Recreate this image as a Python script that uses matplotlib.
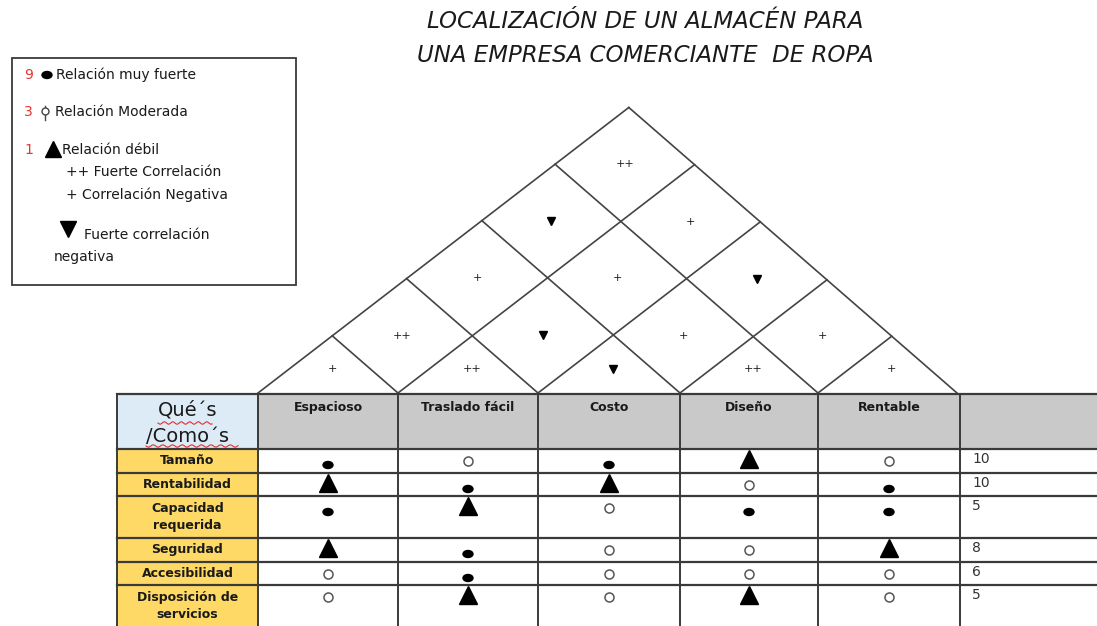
import matplotlib.pyplot as plt
from matplotlib.patches import Rectangle, Ellipse
import numpy as np

title_lines = ["LOCALIZACIÓN DE UN ALMACÉN PARA", "UNA EMPRESA COMERCIANTE  DE ROPA"]

hows = ["Espacioso", "Traslado fácil", "Costo", "Diseño", "Rentable"]
whats = ["Tamaño", "Rentabilidad", "Capacidad\nrequerida", "Seguridad",
         "Accesibilidad", "Disposición de\nservicios"]
weights = [10, 10, 5, 8, 6, 5]

# 9 = relacion muy fuerte, 3 = moderada, 1 = debil
relations = [
    [9, 3, 9, 1, 3],
    [1, 9, 1, 3, 9],
    [9, 1, 3, 9, 9],
    [1, 9, 3, 3, 1],
    [3, 9, 3, 3, 3],
    [3, 1, 3, 1, 3],
]

# roof cells: pair of columns (a, b); a == b is the small triangle on top of column a
roof_a = [0, 1, 2, 3, 4, 0, 1, 2, 3, 0, 1, 2, 0, 1, 0]
roof_b = [0, 1, 2, 3, 4, 1, 2, 3, 4, 2, 3, 4, 3, 4, 4]
roof_mark = ["+", "++", "v", "++", "+",
             "++", "v", "+", "+",
             "+", "+", "v",
             "v", "+",
             "++"]

legend_rows = [("9", "Relación muy fuerte"), ("3", "Relación Moderada"), ("1", "Relación débil")]

# layout (pixel units)
col_edges = [258, 398, 538, 680, 818, 960]
row_edges = [449, 473, 496, 538, 562, 585, 626]
head_top = 394
left_x = 117
right_x = 1097
base_y = 393
sl, sr = 0.77, 0.87   # slopes of the two roof directions

fig = plt.figure(figsize=(10.97, 6.26), dpi=100)
ax = fig.add_axes([0, 0, 1, 1])
ax.set_xlim(0, 1097)
ax.set_ylim(626, 0)
ax.axis("off")

line_c = "#3a3a3a"
txt_c = "#1a1a1a"

# title
for i, t in enumerate(title_lines):
    ax.text(645, 21 + 35 * i, t, ha="center", va="center", fontsize=16.5,
            style="italic", color=txt_c)

# legend box
ax.add_patch(Rectangle((12, 58), 284, 227, fill=False, ec=line_c, lw=1.3))
ys = [75, 112, 150]
for (num, lab), y in zip(legend_rows, ys):
    ax.text(24, y, num, color="#e8322e", fontsize=10, va="center")
ax.add_patch(Ellipse((47, 75), 10, 7, color="black"))
ax.text(56, 75, legend_rows[0][1], fontsize=10, va="center", color=txt_c)
ax.plot([45, 45], [106, 120], color="#444", lw=1)
ax.plot(45, 111, "o", ms=5, mfc="white", mec="#444", mew=1)
ax.text(55, 112, legend_rows[1][1], fontsize=10, va="center", color=txt_c)
ax.plot(53, 149, "^", ms=12, color="black")
ax.text(62, 150, legend_rows[2][1], fontsize=10, va="center", color=txt_c)
ax.text(66, 172, "++ Fuerte Correlación", fontsize=10, va="center", color=txt_c)
ax.text(66, 195, "+ Correlación Negativa", fontsize=10, va="center", color=txt_c)
ax.plot(68, 229, "v", ms=12, color="black")
ax.text(84, 235, "Fuerte correlación", fontsize=10, va="center", color=txt_c)
ax.text(54, 257, "negativa", fontsize=10, va="center", color=txt_c)

# roof
redges = col_edges[:-1] + [957]
nb = len(redges)


def meet(xi, xj):
    # up-right line from xi meets up-left line from xj
    x = (sl * xi + sr * xj) / (sl + sr)
    return x, base_y - sl * (x - xi)


for i in range(nb - 1):
    x, y = meet(redges[i], redges[-1])
    ax.plot([redges[i], x], [base_y, y], color="#444", lw=1.2)
for j in range(1, nb):
    x, y = meet(redges[0], redges[j])
    ax.plot([redges[j], x], [base_y, y], color="#444", lw=1.2)

centers = [(redges[k] + redges[k + 1]) / 2 for k in range(nb - 1)]
for a, b, m in zip(roof_a, roof_b, roof_mark):
    if a == b:
        x, y = meet(redges[a], redges[a + 1])
        y = base_y - (base_y - y) * 0.42
    else:
        x, y = meet(centers[a], centers[b])
    if m == "v":
        ax.plot(x, y, "v", ms=6, color="black")
    else:
        ax.text(x, y, m, ha="center", va="center", fontsize=8, color=txt_c)

# table header
ax.add_patch(Rectangle((left_x, head_top), col_edges[0] - left_x, row_edges[0] - head_top,
                       fc="#DDEBF7", ec="none"))
ax.add_patch(Rectangle((col_edges[0], head_top), right_x - col_edges[0], row_edges[0] - head_top,
                       fc="#C9C9C9", ec="none"))
ax.text((left_x + col_edges[0]) / 2, 410, "Qué´s", ha="center", va="center",
        fontsize=14, color=txt_c)
ax.text((left_x + col_edges[0]) / 2, 436, "/Como´s", ha="center", va="center",
        fontsize=14, color=txt_c)
wx = np.linspace(0, 1, 60)
ax.plot(158 + 54 * wx, 423 + 1.2 * np.sin(wx * 40), color="#e03030", lw=0.8)
ax.plot(146 + 92 * wx, 446 + 1.2 * np.sin(wx * 60), color="#e03030", lw=0.8)

for k, h in enumerate(hows):
    ax.text((col_edges[k] + col_edges[k + 1]) / 2, 401, h, ha="center", va="top",
            fontsize=9, fontweight="bold", color=txt_c)

# row labels, relations, weights
for r, w in enumerate(whats):
    top, bot = row_edges[r], row_edges[r + 1]
    ax.add_patch(Rectangle((left_x, top), col_edges[0] - left_x, bot - top,
                           fc="#FFD966", ec="none"))
    ax.text((left_x + col_edges[0]) / 2, (top + bot) / 2, w, ha="center", va="center",
            fontsize=9, fontweight="bold", color=txt_c, linespacing=1.4)
    ax.text(972, top + 3, str(weights[r]), ha="left", va="top", fontsize=10, color="#333")
    for c, v in enumerate(relations[r]):
        x = (col_edges[c] + col_edges[c + 1]) / 2
        if v == 9:
            ax.add_patch(Ellipse((x, top + 16), 10, 7, color="black"))
        elif v == 3:
            ax.plot(x, top + 12, "o", ms=6.5, mfc="white", mec="#555", mew=1.1)
        else:
            ax.plot(x, top + 10, "^", ms=13, color="black")

# grid lines
for y in [head_top] + row_edges[:-1]:
    ax.plot([left_x, right_x], [y, y], color=line_c, lw=1.6)
for x in [left_x] + col_edges:
    ax.plot([x, x], [head_top, 626], color=line_c, lw=1.4)

fig.savefig("out.png", dpi=100)
